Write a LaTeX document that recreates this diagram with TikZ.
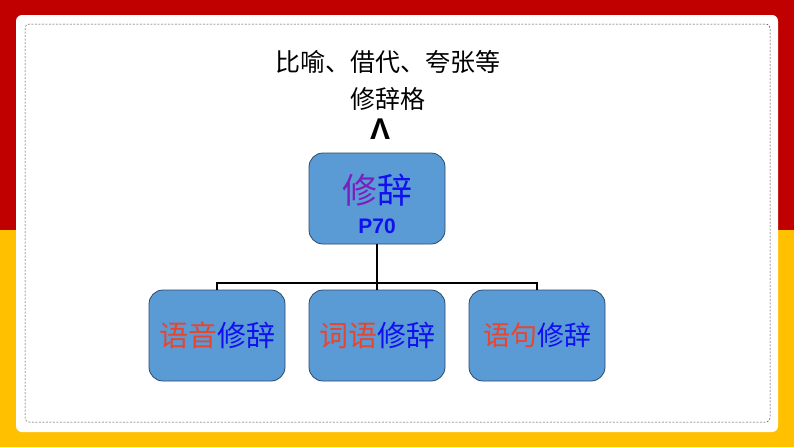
\documentclass[tikz,border=0pt]{standalone}
\usepackage{fontspec}
\newfontfamily\cjk{Noto Sans CJK SC}
\newfontfamily\arial{Liberation Sans}
\definecolor{redband}{HTML}{C00000}
\definecolor{yelband}{HTML}{FFC000}
\definecolor{boxfill}{HTML}{5B9BD5}
\definecolor{boxline}{HTML}{2A4A6A}
\definecolor{txtred}{HTML}{E8452E}
\definecolor{txtblue}{HTML}{1010F0}
\definecolor{txtpur}{HTML}{7A20C0}
\tikzset{
  rbox/.style={draw=boxline, line width=0.8pt, fill=boxfill, rounded corners=14pt, minimum width=136pt, minimum height=91pt, inner sep=0pt, align=center},
  conn/.style={line width=1.5pt}
}
\begin{document}
\begin{tikzpicture}[x=1pt,y=-1pt]
\useasboundingbox (0,0) rectangle (794,447);
\fill[redband] (0,0) rectangle (794,230);
\fill[yelband] (0,230) rectangle (794,447);
\fill[white, rounded corners=6pt] (16,15) rectangle (778,432);
\draw[black!70, line width=0.5pt, dash pattern=on 2pt off 1.5pt, rounded corners=4pt] (25,24) rectangle (770,422);
\node[font=\cjk\fontsize{25}{28}\selectfont] (t1) at (388,62) {比喻、借代、夸张等};
\node[font=\cjk\fontsize{25}{28}\selectfont] (t2) at (388,99) {修辞格};
\node[font=\arial\bfseries\fontsize{30}{32}\selectfont] (caret) at (380,129) {Λ};
\node[rbox] (top) at (377,198.5) {};
\node[font=\cjk\fontsize{35}{38}\selectfont, inner sep=0pt] (topt) at (377,190) {\textcolor{txtpur}{修}\textcolor{txtblue}{辞}};
\node[font=\arial\bfseries\fontsize{21}{23}\selectfont, text=txtblue, inner sep=0pt] (p70) at (377,226) {P70};
\node[rbox] (b1) at (217,335.5) {\cjk\fontsize{29}{32}\selectfont\textcolor{txtred}{语音}\textcolor{txtblue}{修辞}};
\node[rbox] (b2) at (377,335.5) {\cjk\fontsize{29}{32}\selectfont\textcolor{txtred}{词语}\textcolor{txtblue}{修辞}};
\node[rbox] (b3) at (537,335.5) {\cjk\fontsize{27}{30}\selectfont\textcolor{txtred}{语句}\textcolor{txtblue}{修辞}};
\coordinate (j) at (377,283);
\draw[conn] (top.south) -- (j);
\draw[conn] (b1.north) -- (b1.north |- j) -- (b3.north |- j) -- (b3.north);
\draw[conn] (j) -- (b2.north);
\end{tikzpicture}
\end{document}
